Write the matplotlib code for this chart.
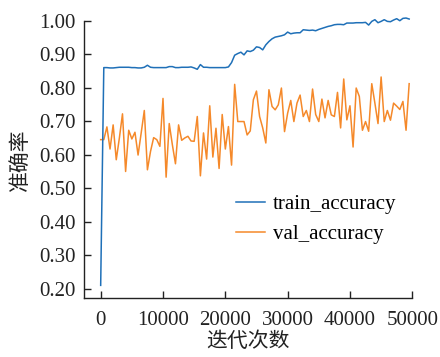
import numpy as np
import matplotlib
matplotlib.use('Agg')
import matplotlib.pyplot as plt
from matplotlib.ticker import FormatStrFormatter

plt.rcParams['font.family'] = ['Liberation Serif', 'Noto Sans CJK SC']
plt.rcParams['axes.unicode_minus'] = False

# iterations (every 500 steps)
iterations = np.arange(0, 50000, 500)

train_accuracy = [
    0.21, 0.860, 0.860, 0.859, 0.859, 0.860, 0.861, 0.861, 0.861, 0.861,
    0.860, 0.860, 0.859, 0.859, 0.861, 0.867, 0.861, 0.860, 0.860, 0.860,
    0.860, 0.860, 0.863, 0.863, 0.860, 0.860, 0.861, 0.861, 0.861, 0.862,
    0.859, 0.855, 0.869, 0.861, 0.861, 0.860, 0.860, 0.860, 0.860, 0.860,
    0.860, 0.862, 0.875, 0.897, 0.902, 0.906, 0.898, 0.910, 0.908, 0.912,
    0.922, 0.920, 0.913, 0.928, 0.938, 0.946, 0.951, 0.953, 0.955, 0.958,
    0.966, 0.961, 0.963, 0.964, 0.964, 0.973, 0.972, 0.971, 0.972, 0.970,
    0.974, 0.977, 0.980, 0.983, 0.985, 0.988, 0.989, 0.989, 0.988, 0.993,
    0.993, 0.993, 0.994, 0.994, 0.994, 0.995, 0.987, 0.998, 1.003, 0.994,
    0.998, 1.003, 0.998, 0.997, 1.002, 1.006, 1.000, 1.007, 1.008, 1.005,
]

val_accuracy = [
    0.645, 0.645, 0.683, 0.617, 0.689, 0.585, 0.650, 0.722, 0.550, 0.673,
    0.647, 0.667, 0.599, 0.665, 0.732, 0.555, 0.610, 0.651, 0.645, 0.625,
    0.768, 0.533, 0.693, 0.630, 0.573, 0.689, 0.643, 0.650, 0.655, 0.641,
    0.640, 0.714, 0.537, 0.665, 0.587, 0.746, 0.593, 0.679, 0.559, 0.720,
    0.617, 0.684, 0.569, 0.810, 0.699, 0.699, 0.699, 0.659, 0.671, 0.764,
    0.790, 0.714, 0.680, 0.635, 0.794, 0.744, 0.734, 0.749, 0.799, 0.669,
    0.724, 0.762, 0.699, 0.754, 0.778, 0.714, 0.732, 0.699, 0.796, 0.720,
    0.699, 0.766, 0.710, 0.762, 0.719, 0.714, 0.786, 0.680, 0.826, 0.704,
    0.746, 0.623, 0.799, 0.774, 0.673, 0.699, 0.670, 0.812, 0.754, 0.693,
    0.832, 0.699, 0.732, 0.703, 0.754, 0.745, 0.735, 0.759, 0.673, 0.812,
]

x_ticks = [0, 10000, 20000, 30000, 40000, 50000]
y_ticks = [0.20, 0.30, 0.40, 0.50, 0.60, 0.70, 0.80, 0.90, 1.00]

fig = plt.figure(figsize=(4.4, 3.57), dpi=100)
ax = fig.add_axes([0.191, 0.165, 0.746, 0.777])

ax.plot(iterations, train_accuracy, color='#1f70b8', lw=1.1,
        label='train_accuracy', clip_on=False, zorder=3)
ax.plot(iterations, val_accuracy, color='#f5892a', lw=1.1,
        label='val_accuracy', zorder=2)

ax.set_xlim(-2670, 50000)
ax.set_ylim(0.172, 1.0)
ax.set_xticks(x_ticks)
ax.set_yticks(y_ticks)
ax.yaxis.set_major_formatter(FormatStrFormatter('%.2f'))

for side in ['top', 'right']:
    ax.spines[side].set_visible(False)
for side in ['left', 'bottom']:
    ax.spines[side].set_linewidth(1.0)
    ax.spines[side].set_color('#222222')

ax.tick_params(direction='in', length=5, width=1.0, colors='#222222',
               labelsize=15)
ax.tick_params(axis='x', pad=9)
ax.tick_params(axis='y', pad=6)

ax.set_xlabel('迭代次数', fontsize=15, color='#222222', labelpad=2)
ax.set_ylabel('准确率', fontsize=15, color='#222222', labelpad=6)

ax.legend(loc='upper left', bbox_to_anchor=(0.405, 0.44), frameon=False,
          fontsize=15, handlelength=1.4, handletextpad=0.4, labelspacing=0.5)

fig.savefig('out.png', dpi=100, facecolor='white')
